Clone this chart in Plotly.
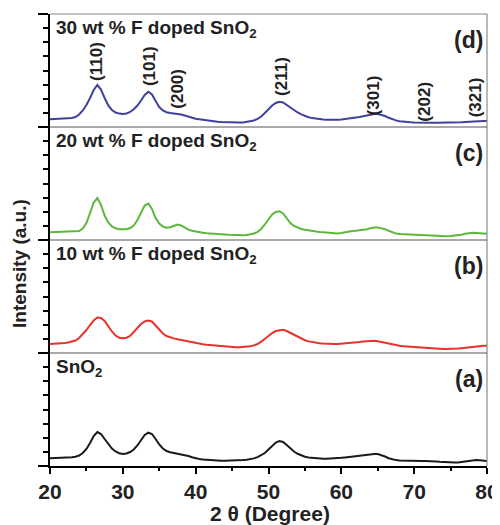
import plotly.graph_objects as go
import numpy as np

# ---- data: intensity (a.u.) sampled every 0.5° of 2θ from 20° to 80° ----
two_theta = np.arange(20, 80.001, 0.5)

I_a = [7.7, 7.8, 7.9, 8, 8.2, 8.5, 8.8, 9.3, 10.5, 13,          # 20-24.5
       17, 23, 30, 34, 32, 27, 22, 17.5, 14.5, 12.8,           # 25-29.5
       12, 12.5, 14, 16.5, 20.5, 26, 31, 33.3, 32, 27,         # 30-34.5
       21.5, 17.5, 15, 13.8, 13, 12.6, 12, 11, 10, 8.8,        # 35-39.5
       7.8, 7.1, 6.6, 6.2, 5.9, 5.6, 5.4, 5.3, 5.3, 5.3,       # 40-44.5
       5.4, 5.5, 5.7, 5.9, 6.2, 6.8, 7.6, 8.8, 10.5, 13,       # 45-49.5
       16.5, 20.5, 23.5, 25, 24, 21, 17.5, 14.5, 12.2, 10.5,   # 50-54.5
       9.3, 8.6, 8.1, 7.7, 7.4, 7.3, 7.3, 7.4, 7.6, 7.9,       # 55-59.5
       8.2, 8.6, 9, 9.5, 10, 10.5, 11, 11.5, 11.9, 12,         # 60-64.5
       11.9, 11, 9.5, 7.8, 6.6, 5.9, 5.5, 5.3, 5.2, 5.1,       # 65-69.5
       5, 5, 5, 5, 5, 4.8, 4.5, 4.2, 3.9, 3.6,                 # 70-74.5
       3.4, 3.4, 3.6, 4, 4.6, 5.3, 5.8, 6, 5.8, 5.4,           # 75-79.5
       5]                                                      # 80

I_b = [9, 9.1, 9.3, 9.6, 10, 10.5, 11.3, 12.5, 15, 18.5,
       23, 28, 32.5, 35.5, 35, 32, 26.5, 21.5, 17.5, 15.3,
       14.7, 15.3, 17, 20.5, 25, 29, 31.5, 32.5, 31.5, 27.5,
       23, 19.5, 17, 15.5, 14.6, 13.8, 13, 12.2, 11.5, 10.8,
       10.1, 9.4, 8.8, 8.3, 7.9, 7.4, 7, 6.6, 6.3, 6,
       5.8, 5.7, 5.7, 5.9, 6.3, 6.8, 7.6, 9, 11.3, 14.5,
       17.5, 20, 22, 23, 23.3, 22, 20, 18, 16.3, 14.5,
       12.8, 11.6, 10.8, 10.2, 9.8, 9.5, 9.2, 9, 9, 9.1,
       9.3, 9.5, 9.7, 10, 10.4, 10.9, 11.4, 11.9, 12.3, 12.2,
       11.8, 11, 10.2, 9.3, 8.4, 7.7, 7.2, 6.8, 6.5, 6.2,
       6, 5.8, 5.7, 5.5, 5.2, 4.9, 4.6, 4.3, 4.1, 4,
       4, 4.1, 4.4, 4.8, 5.3, 5.7, 6.1, 6.5, 6.9, 7.2,
       7.3]

I_c = [7.8, 7.9, 8, 8.1, 8.2, 8.3, 8.4, 8.6, 9, 11.5,
       17, 27, 37.5, 42, 35, 24.5, 17.5, 13.5, 11.7, 10.8,
       10.5, 10.8, 12, 14.5, 20, 28, 34.5, 36.5, 31, 22,
       16.5, 13.5, 12.3, 12.8, 14.5, 15.5, 14.5, 12, 10.3, 9.2,
       8.4, 7.8, 7.3, 6.8, 6.4, 6.1, 5.8, 5.6, 5.4, 5.2,
       5, 4.9, 4.8, 4.8, 5.1, 5.6, 6.5, 8.2, 11, 15.5,
       21, 25.5, 28, 28.8, 26.5, 21.5, 17, 14, 12.3, 11,
       10.2, 9.5, 8.9, 8.4, 8, 7.7, 7.3, 6.9, 6.6, 6.6,
       7, 7.8, 8.6, 9, 9.2, 9.5, 10, 10.8, 11.8, 12.6,
       12.6, 12, 10.8, 9.2, 7.6, 6.4, 5.9, 5.7, 5.6, 5.6,
       5.5, 5.4, 5.2, 5, 4.7, 4.4, 4.1, 3.9, 3.8, 3.8,
       3.9, 4.1, 4.5, 5.2, 6.2, 7.1, 7.3, 7, 6.6, 6.3,
       6.2]

I_d = [7.7, 7.8, 7.9, 8, 8.2, 8.5, 9, 10, 12.5, 16.5,
       22, 29, 37, 42, 37.5, 29, 21.5, 17, 14.5, 13.4,
       13, 13.5, 15, 17.8, 21.5, 26.5, 32, 35.3, 32.5, 26,
       20, 16.5, 14.8, 14, 13.6, 13.2, 12.5, 11.5, 10.3, 9.2,
       8.3, 7.7, 7.1, 6.6, 6, 5.5, 5.2, 4.9, 4.7, 4.5,
       4.4, 4.3, 4.4, 4.6, 5, 5.6, 6.5, 8.2, 10.5, 14,
       18, 21.5, 24, 25.3, 24.5, 22, 19, 16.5, 14.5, 12.6,
       11, 9.8, 8.9, 8.2, 7.7, 7.4, 7.2, 7, 7, 7.2,
       7.5, 7.9, 8.3, 8.7, 9.3, 10, 10.8, 11.6, 12.3, 12.9,
       13, 12.3, 11, 9.2, 7.7, 6.6, 5.8, 5.3, 5, 4.8,
       4.6, 4.4, 4.3, 4.3, 4.3, 4.2, 4.2, 4.2, 4.2, 4.3,
       4.3, 4.4, 4.6, 4.8, 5, 5.3, 5.5, 5.7, 5.8, 5.9,
       6]

series_names = ["SnO<sub>2</sub>", "10 wt % F doped SnO<sub>2</sub>",
                "20 wt % F doped SnO<sub>2</sub>", "30 wt % F doped SnO<sub>2</sub>"]
panel_tags = ["(a)", "(b)", "(c)", "(d)"]
colors = ["#1a1a1a", "#e8322a", "#5cb83a", "#40409e"]

peak_pos = [26.3, 33.6, 37.4, 51.7, 64.4, 71.3, 78.4]
peak_hkl = ["(110)", "(101)", "(200)", "(211)", "(301)", "(202)", "(321)"]

x_ticks = [20, 30, 40, 50, 60, 70, 80]

# ---- layout constants (page pixels; the page body has an 8px margin) ----
OFF = 8
W, H = 500 - OFF, 525 - OFF
PL, PR, PT, PB = 50, 487, 14, 466          # plot area in page pixels
L, T = PL - OFF, PT - OFF
R, B = W - (PR - OFF), H - (PB - OFF)
PW, PHpx = PR - PL, PB - PT
PH = 113.0  # intensity range of each panel
FONT = "Liberation Sans, Arial, sans-serif"

ys = [I_a, I_b, I_c, I_d]

fig = go.Figure()
for i in range(4):
    fig.add_trace(go.Scatter(
        x=two_theta[:len(ys[i])], y=ys[i], mode="lines",
        line=dict(color=colors[i], width=2),
        yaxis="y" if i == 0 else f"y{i+1}", xaxis="x", showlegend=False,
        hoverinfo="skip"))

layout = dict(
    width=W, height=H,
    margin=dict(l=L, r=R, t=T, b=B),
    paper_bgcolor="white", plot_bgcolor="white",
    showlegend=False,
    xaxis=dict(range=[20, 80], tickvals=x_ticks, ticks="outside", ticklen=6, tickwidth=1.5,
               tickcolor="black", showline=True, linecolor="black", linewidth=1.5,
               showgrid=False, zeroline=False, automargin=False,
               minor=dict(tick0=25, dtick=10, ticks="outside", ticklen=3, tickwidth=1.5, tickcolor="black"),
               tickfont=dict(family=FONT, size=21, color="#222", weight=700),
               anchor="y"),
)
for i in range(4):
    key = "yaxis" if i == 0 else f"yaxis{i+1}"
    layout[key] = dict(
        domain=[i / 4, (i + 1) / 4], range=[0, PH], anchor="x",
        showgrid=False, zeroline=False, showticklabels=False, automargin=False,
        showline=True, linecolor="black", linewidth=1.5,
        tickvals=[0, PH], ticks="outside", ticklen=10, tickwidth=1.5, tickcolor="black",
        minor=dict(tickvals=list(np.linspace(0, PH, 9)[1:-1]), ticks="outside",
                   ticklen=5, tickwidth=1.5, tickcolor="black"),
    )
fig.update_layout(**layout)

# borders: right, top, panel separators
fig.add_shape(type="line", xref="paper", yref="paper", x0=1, x1=1, y0=0, y1=1,
              line=dict(color="#8a8a8a", width=1.2))
fig.add_shape(type="line", xref="paper", yref="paper", x0=0, x1=1, y0=1, y1=1,
              line=dict(color="#8a8a8a", width=1.2))
for k in (1, 2, 3):
    fig.add_shape(type="line", xref="paper", yref="paper", x0=0, x1=1, y0=k / 4, y1=k / 4,
                  line=dict(color="#555555", width=1.2))

# panel labels
for i in range(4):
    top = (i + 1) / 4
    fig.add_annotation(xref="paper", yref="paper", x=4 / PW, y=top - 15 / PHpx,
                       text=series_names[i], showarrow=False, xanchor="left", yanchor="middle",
                       font=dict(family=FONT, size=19, color="#222", weight=700))
    fig.add_annotation(xref="paper", yref="paper", x=1 - 2 / PW, y=top - 26 / PHpx,
                       text=panel_tags[i], showarrow=False, xanchor="right", yanchor="middle",
                       font=dict(family=FONT, size=23, color="#222", weight=700))

# peak labels in top panel (vertical text)
label_center_px = [61, 66, 89, 76, 95, 102, 97]  # page-pixel y of label centres
panel_px = PHpx / 4
for p, h, cy in zip(peak_pos, peak_hkl, label_center_px):
    fig.add_annotation(x=p, xref="x", yref="y4", y=(PT + panel_px - cy) / panel_px * PH,
                       text=h, showarrow=False, textangle=-90,
                       xanchor="center", yanchor="middle",
                       font=dict(family=FONT, size=17, color="#222", weight=700))

# axis titles
fig.add_annotation(xref="paper", yref="paper", x=(270 - PL) / PW, y=-(513 - PB) / PHpx,
                   text="2 θ (Degree)", showarrow=False, xanchor="center", yanchor="middle",
                   font=dict(family=FONT, size=21, color="#222", weight=700))
fig.add_annotation(xref="paper", yref="paper", x=-(PL - 19) / PW, y=(PB - 264) / PHpx,
                   text="Intensity (a.u.)", showarrow=False, textangle=-90,
                   xanchor="center", yanchor="middle",
                   font=dict(family=FONT, size=19, color="#222", weight=700))

fig.write_html("out.html")
